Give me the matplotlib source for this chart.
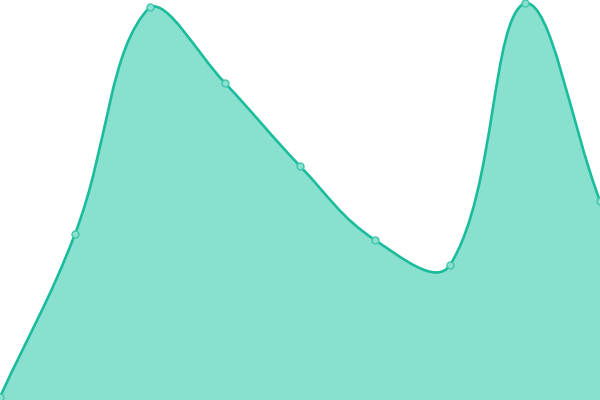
import math
import matplotlib
matplotlib.use('Agg')
import matplotlib.pyplot as plt
from matplotlib.path import Path
from matplotlib.patches import PathPatch

x_vals = [0, 1, 2, 3, 4, 5, 6, 7, 8]
y_vals = [0.75, 41.5, 98.25, 79.25, 58.5, 40.0, 33.75, 99.25, 49.75]

line_color = '#1abc9c'
fill_color = '#8ae0cf'
tension = 0.4
x_max, y_max = 8, 100
# pixels per data unit, used so the smoothing weights follow screen distances
sx, sy = 600 / x_max, 400 / y_max


def spline_verts(xs, ys):
    n = len(xs)
    cps = []
    for i in range(n):
        pi = max(i - 1, 0)
        ni = min(i + 1, n - 1)
        d01 = math.hypot((xs[i] - xs[pi]) * sx, (ys[i] - ys[pi]) * sy)
        d12 = math.hypot((xs[ni] - xs[i]) * sx, (ys[ni] - ys[i]) * sy)
        tot = d01 + d12 if d01 + d12 else 1
        fa = tension * d01 / tot
        fb = tension * d12 / tot
        dx = xs[ni] - xs[pi]
        dy = ys[ni] - ys[pi]
        before = (xs[i] - fa * dx, ys[i] - fa * dy)
        after = (xs[i] + fb * dx, ys[i] + fb * dy)
        clamp = lambda p: (min(max(p[0], 0), x_max), min(max(p[1], 0), y_max))
        cps.append((clamp(before), clamp(after)))
    verts = [(xs[0], ys[0])]
    codes = [Path.MOVETO]
    for i in range(1, n):
        verts += [cps[i - 1][1], cps[i][0], (xs[i], ys[i])]
        codes += [Path.CURVE4] * 3
    return verts, codes


fig = plt.figure(figsize=(6, 4), dpi=100)
ax = fig.add_axes([0, 0, 1, 1])
ax.set_xlim(0, x_max)
ax.set_ylim(0, y_max)
ax.axis('off')

verts, codes = spline_verts(x_vals, y_vals)
fill_verts = verts + [(x_vals[-1], 0), (x_vals[0], 0), verts[0]]
fill_codes = codes + [Path.LINETO, Path.LINETO, Path.CLOSEPOLY]
ax.add_patch(PathPatch(Path(fill_verts, fill_codes), facecolor=fill_color, edgecolor='none'))
ax.add_patch(PathPatch(Path(verts, codes), facecolor='none', edgecolor=line_color, lw=1.9))
ax.plot(x_vals, y_vals, 'o', ms=5, mfc=fill_color, mec='#3fc7ab', mew=1, clip_on=True)

fig.savefig('out.png', dpi=100)
